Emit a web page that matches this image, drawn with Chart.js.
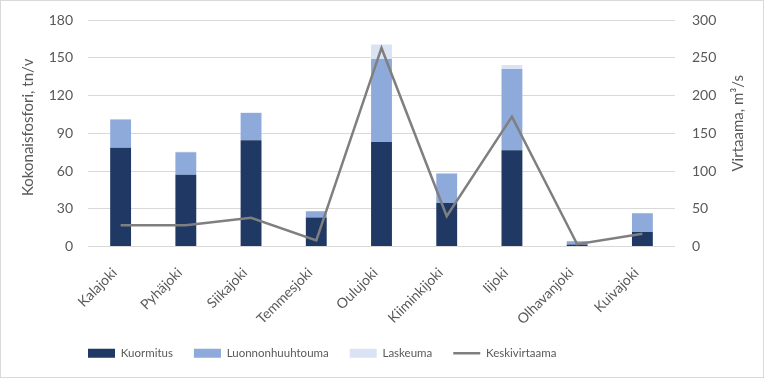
<!DOCTYPE html>
<html>
<head>
<meta charset="utf-8">
<script src="https://cdn.jsdelivr.net/npm/chart.js@4/dist/chart.umd.min.js"></script>
<style>
  html, body { margin: 0; padding: 0; background: #ffffff; }
  #wrap { width: 764px; height: 378px; box-sizing: border-box; border: 1px solid #d9d9d9; background: #fff; }
  #c { display: block; }
</style>
</head>
<body>
<div id="wrap"><canvas id="c" width="762" height="376"></canvas></div>
<script>
const categories = ['Kalajoki', 'Pyhäjoki', 'Siikajoki', 'Temmesjoki', 'Oulujoki', 'Kiiminkijoki', 'Iijoki', 'Olhavanjoki', 'Kuivajoki'];
const kuormitus = [78.5, 57, 84.5, 23, 83, 34.5, 76.5, 1.5, 11.5];
const luonnonhuuhtouma = [22.5, 18, 21.5, 5, 66, 23.5, 64.5, 2.7, 15];
const laskeuma = [0.4, 0.3, 0.4, 0.2, 11.5, 0.3, 3.2, 0.1, 0.2];
const keskivirtaama = [28, 28, 38, 8, 263, 40, 172, 3, 17];
const leftTicks = [0, 30, 60, 90, 120, 150, 180];
const rightTicks = [0, 50, 100, 150, 200, 250, 300];
const leftTitle = 'Kokonaisfosfori, tn/v';
const rightTitle = 'Virtaama, m³/s';

const FONT = 'Lato, "Liberation Sans", sans-serif';
const TXT = '#595959';

const legendShift = {
  id: 'legendShift',
  afterLayout(chart) {
    const lg = chart.legend;
    if (!lg) return;
    lg.left += 66; lg.right += 66;
    lg.top -= 8; lg.bottom -= 8;
  }
};

const axisTitles = {
  id: 'axisTitles',
  afterDraw(chart) {
    const { ctx, chartArea } = chart;
    const cy = (chartArea.top + chartArea.bottom) / 2;
    ctx.save();
    ctx.fillStyle = TXT;
    ctx.font = '15px ' + FONT;
    ctx.textAlign = 'center';
    ctx.textBaseline = 'middle';
    ctx.save();
    ctx.translate(chartArea.left - 60, cy - 6);
    ctx.rotate(-Math.PI / 2);
    ctx.fillText(leftTitle, 0, 0);
    ctx.restore();
    ctx.save();
    ctx.translate(chartArea.right + 63, cy - 10);
    ctx.rotate(-Math.PI / 2);
    ctx.fillText(rightTitle, 0, 0);
    ctx.restore();
    ctx.restore();
  }
};

function noVPad(s) { s.paddingTop = 0; s.paddingBottom = 0; }

new Chart(document.getElementById('c'), {
  data: {
    labels: categories,
    datasets: [
      { type: 'bar', label: 'Kuormitus', data: kuormitus, backgroundColor: '#1f3864', yAxisID: 'y', pointStyle: 'rect', order: 1 },
      { type: 'bar', label: 'Luonnonhuuhtouma', data: luonnonhuuhtouma, backgroundColor: '#8eaadb', yAxisID: 'y', pointStyle: 'rect', order: 1 },
      { type: 'bar', label: 'Laskeuma', data: laskeuma, backgroundColor: '#dae3f3', yAxisID: 'y', pointStyle: 'rect', order: 1 },
      { type: 'line', label: 'Keskivirtaama', data: keskivirtaama, borderColor: '#7f7f7f', backgroundColor: '#7f7f7f', borderWidth: 2.5, pointRadius: 0, tension: 0, yAxisID: 'y1', pointStyle: 'line', order: 0 }
    ]
  },
  options: {
    responsive: false,
    animation: false,
    layout: { padding: { top: 19, left: 0, right: 0, bottom: 0 } },
    datasets: { bar: { categoryPercentage: 0.8, barPercentage: 0.4 } },
    plugins: {
      tooltip: { enabled: false },
      legend: {
        position: 'bottom',
        align: 'start',
        labels: {
          usePointStyle: true,
          pointStyleWidth: 27,
          boxHeight: 9,
          padding: 21,
          color: TXT,
          font: { family: FONT, size: 11.5 },
          sort: (a, b) => a.datasetIndex - b.datasetIndex
        }
      }
    },
    scales: {
      x: {
        stacked: true,
        grid: { display: false },
        border: { display: false },
        ticks: { color: TXT, font: { family: FONT, size: 14 }, minRotation: 45, maxRotation: 45, autoSkip: false, padding: 10, labelOffset: -6 },
        afterFit(s) { s.height = 88; }
      },
      y: {
        stacked: true,
        position: 'left',
        min: 0, max: 180,
        afterBuildTicks(s) { s.ticks = leftTicks.map(v => ({ value: v })); },
        grid: { color: '#d9d9d9', lineWidth: 1, drawTicks: false },
        border: { display: false },
        ticks: { color: TXT, font: { family: FONT, size: 14 }, padding: 15 },
        afterFit(s) { s.width = 87; noVPad(s); }
      },
      y1: {
        stacked: false,
        position: 'right',
        min: 0, max: 300,
        afterBuildTicks(s) { s.ticks = rightTicks.map(v => ({ value: v })); },
        grid: { display: false, drawTicks: false },
        border: { display: false },
        ticks: { color: TXT, font: { family: FONT, size: 14 }, padding: 17 },
        afterFit(s) { s.width = 88; noVPad(s); }
      }
    }
  },
  plugins: [legendShift, axisTitles]
});
</script>
</body>
</html>
